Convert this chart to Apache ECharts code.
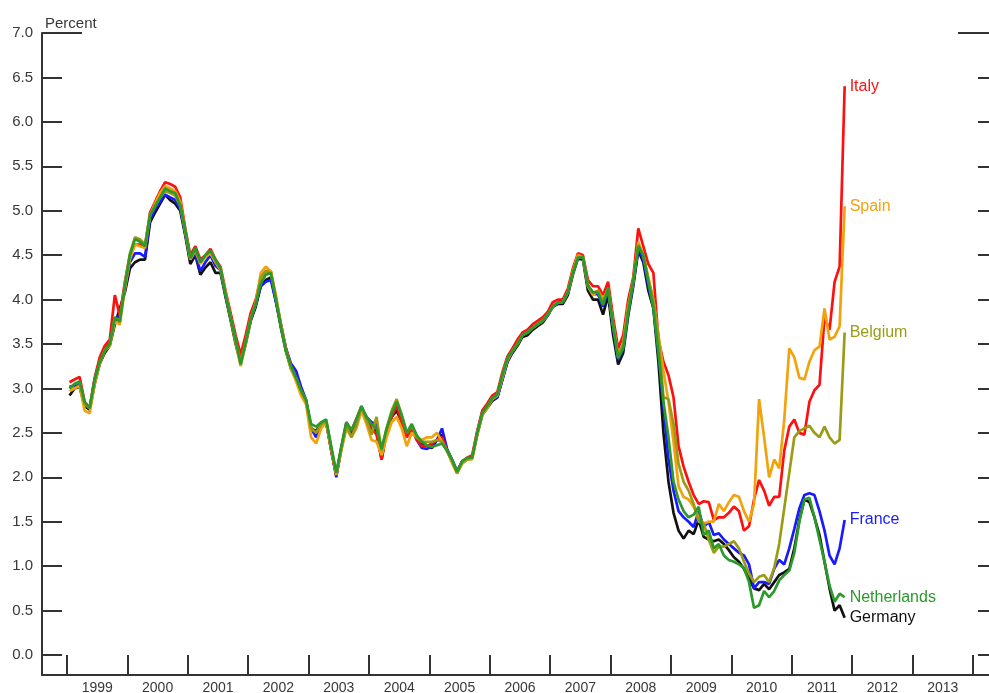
<!DOCTYPE html>
<html>
<head>
<meta charset="utf-8">
<script src="https://cdn.jsdelivr.net/npm/echarts@6/dist/echarts.min.js"></script>
<style>
  html, body { margin: 0; padding: 0; background: #ffffff; }
  #chart { width: 989px; height: 693px; }
</style>
</head>
<body>
<div id="chart"></div>
<script>
// Monthly averages, January 1999 to November 2011 (percent)
const firstYear = 1999;

const yearLabels = ['1999', '2000', '2001', '2002', '2003', '2004', '2005',
  '2006', '2007', '2008', '2009', '2010', '2011', '2012', '2013'];
const yearTicks = [1999, 2000, 2001, 2002, 2003, 2004, 2005, 2006, 2007,
  2008, 2009, 2010, 2011, 2012, 2013, 2014];
const valueTicks = [0, 0.5, 1, 1.5, 2, 2.5, 3, 3.5, 4, 4.5, 5, 5.5, 6, 6.5];
const valueLabels = [0, 0.5, 1, 1.5, 2, 2.5, 3, 3.5, 4, 4.5, 5, 5.5, 6, 6.5, 7];

const germany = [
  2.92, 3.0, 3.02, 2.8, 2.76, 3.05, 3.28, 3.4, 3.48, 3.72, 3.9, 4.08,
  4.35, 4.42, 4.45, 4.45, 4.87, 4.98, 5.08, 5.18, 5.12, 5.08, 5.0, 4.72,
  4.4, 4.5, 4.28, 4.36, 4.42, 4.3, 4.3, 4.03, 3.77, 3.5, 3.28, 3.5,
  3.76, 3.92, 4.15, 4.22, 4.25, 3.98, 3.68, 3.42, 3.22, 3.12, 2.96, 2.85,
  2.55, 2.52, 2.6, 2.62, 2.3, 2.03, 2.32, 2.58, 2.5, 2.6, 2.75, 2.66,
  2.55, 2.52, 2.2, 2.52, 2.68, 2.75, 2.62, 2.5, 2.55, 2.44, 2.38, 2.36,
  2.33, 2.42, 2.48, 2.3, 2.18, 2.05, 2.17, 2.2, 2.22, 2.48, 2.7, 2.78,
  2.86, 2.9, 3.1, 3.3, 3.4, 3.48, 3.58, 3.6, 3.66, 3.7, 3.74, 3.82,
  3.92, 3.95, 3.95, 4.05, 4.28, 4.46, 4.45, 4.1, 4.0, 4.0, 3.83, 4.05,
  3.6, 3.27, 3.4, 3.82, 4.15, 4.55, 4.42, 4.1, 3.9, 3.3, 2.5, 1.95,
  1.6, 1.4, 1.31, 1.4, 1.36, 1.52, 1.33, 1.3, 1.28, 1.3, 1.25, 1.18,
  1.1, 1.05, 0.97, 0.86, 0.75, 0.73, 0.8, 0.74, 0.82, 0.9, 0.93, 0.97,
  1.2, 1.52, 1.75, 1.72, 1.55, 1.35, 1.05, 0.75, 0.5, 0.56, 0.42
];

const france = [
  3.02, 3.03, 3.05, 2.8, 2.78, 3.1, 3.32, 3.45, 3.52, 3.78, 3.82, 4.12,
  4.42, 4.52, 4.52, 4.48, 4.9, 5.02, 5.1, 5.18, 5.15, 5.12, 5.02, 4.74,
  4.45, 4.52, 4.32, 4.42, 4.5, 4.38, 4.33, 4.05, 3.8, 3.55, 3.3, 3.52,
  3.78, 3.95, 4.15, 4.2, 4.22, 3.98, 3.72, 3.45, 3.28, 3.2, 3.02, 2.87,
  2.55, 2.45, 2.58, 2.62, 2.32, 2.0, 2.32, 2.6, 2.5, 2.62, 2.78, 2.68,
  2.62, 2.6, 2.28, 2.52, 2.7, 2.8, 2.65, 2.48, 2.55, 2.42, 2.33, 2.32,
  2.35, 2.42, 2.55, 2.32, 2.2, 2.07, 2.18, 2.21, 2.22, 2.5, 2.73, 2.8,
  2.87, 2.9, 3.1, 3.3, 3.42, 3.52, 3.6, 3.63, 3.68, 3.72, 3.76, 3.82,
  3.92, 3.96, 3.97, 4.08, 4.3, 4.47, 4.47, 4.15, 4.06, 4.06, 3.92, 4.1,
  3.68, 3.32, 3.45, 3.85, 4.18, 4.58, 4.45, 4.15, 3.92, 3.4, 2.8, 2.2,
  1.85, 1.62, 1.55, 1.5, 1.44, 1.62, 1.44, 1.5, 1.35, 1.37, 1.3, 1.25,
  1.2, 1.15, 1.12, 1.02, 0.75, 0.82, 0.82, 0.8, 0.97, 1.07, 1.02, 1.2,
  1.42, 1.65, 1.8, 1.82, 1.8, 1.62, 1.4, 1.12, 1.02, 1.2, 1.52
];

const italy = [
  3.07, 3.1, 3.13, 2.85, 2.78, 3.12, 3.35, 3.48, 3.55, 4.05, 3.82, 4.2,
  4.5, 4.62, 4.62, 4.6, 4.98, 5.1, 5.22, 5.32, 5.3, 5.27, 5.15, 4.8,
  4.5, 4.6, 4.45, 4.5, 4.57, 4.45, 4.37, 4.1, 3.85, 3.6, 3.38, 3.6,
  3.85, 4.0, 4.25, 4.32, 4.32, 4.02, 3.72, 3.45, 3.25, 3.12, 2.98, 2.85,
  2.55, 2.5, 2.58, 2.62, 2.3, 2.02, 2.33, 2.62, 2.52, 2.66, 2.8, 2.66,
  2.55, 2.48, 2.2, 2.5, 2.68, 2.8, 2.62, 2.45, 2.55, 2.42, 2.35, 2.35,
  2.38, 2.42, 2.45, 2.3, 2.18, 2.06, 2.18, 2.22, 2.25, 2.52, 2.75, 2.83,
  2.92, 2.96, 3.18, 3.36, 3.45, 3.55, 3.63, 3.66, 3.72, 3.76, 3.8, 3.86,
  3.97, 4.0, 4.0, 4.12, 4.35, 4.52, 4.5, 4.22, 4.15, 4.15, 4.05, 4.2,
  3.8, 3.45, 3.6, 4.0, 4.25, 4.8, 4.6, 4.4, 4.3, 3.55, 3.3, 3.15,
  2.9, 2.35, 2.12, 1.95, 1.8, 1.7, 1.73, 1.72, 1.52, 1.55, 1.55, 1.6,
  1.67, 1.62, 1.4, 1.45, 1.75, 1.97, 1.85, 1.68, 1.78, 1.78, 2.3, 2.57,
  2.65, 2.5, 2.48, 2.85, 2.98, 3.04, 3.8, 3.66, 4.2, 4.37, 6.4
];

const spain = [
  2.97, 3.0, 3.03, 2.75, 2.72, 3.05, 3.28, 3.42, 3.48, 3.75, 3.72, 4.12,
  4.45, 4.62, 4.6, 4.58, 4.95, 5.08, 5.2, 5.28, 5.25, 5.22, 5.1, 4.77,
  4.45, 4.55, 4.4, 4.48, 4.52, 4.42, 4.33, 4.08, 3.8, 3.52, 3.25, 3.5,
  3.78, 3.97, 4.3, 4.37, 4.32, 4.05, 3.72, 3.42, 3.22, 3.08, 2.92, 2.82,
  2.45, 2.38, 2.55, 2.62, 2.32, 2.03, 2.3, 2.55, 2.45, 2.55, 2.75, 2.6,
  2.42, 2.4, 2.25, 2.45, 2.62, 2.68, 2.55, 2.35, 2.5, 2.45, 2.42, 2.45,
  2.45, 2.5, 2.4, 2.3, 2.16, 2.04, 2.15, 2.2, 2.2, 2.48, 2.7, 2.78,
  2.88, 2.92, 3.12, 3.32, 3.42, 3.5, 3.6, 3.63, 3.68, 3.72, 3.76, 3.83,
  3.92, 3.97, 3.97, 4.08, 4.32, 4.5, 4.48, 4.15, 4.05, 4.1, 4.0, 4.12,
  3.72, 3.36, 3.5, 3.92, 4.2, 4.65, 4.5, 4.25, 4.0, 3.6, 3.2, 2.85,
  2.4, 1.9, 1.78, 1.75, 1.67, 1.55, 1.48, 1.5, 1.5, 1.7, 1.62, 1.72,
  1.8, 1.78, 1.62, 1.5, 1.7, 2.88, 2.45, 2.0, 2.2, 2.1, 2.65, 3.45,
  3.35, 3.12, 3.1, 3.3, 3.43, 3.47, 3.9, 3.55, 3.58, 3.7, 5.05
];

const belgium = [
  3.0, 3.05, 3.07, 2.82, 2.78, 3.08, 3.3, 3.43, 3.5, 3.8, 3.76, 4.18,
  4.52, 4.7, 4.68, 4.62, 4.95, 5.05, 5.15, 5.22, 5.2, 5.17, 5.05, 4.76,
  4.46, 4.56, 4.42, 4.5, 4.55, 4.43, 4.35, 4.07, 3.8, 3.55, 3.3, 3.53,
  3.8, 3.95, 4.25, 4.32, 4.3, 4.02, 3.72, 3.43, 3.24, 3.12, 2.97, 2.85,
  2.55, 2.5, 2.6, 2.63, 2.32, 2.04, 2.33, 2.58, 2.45, 2.58, 2.8, 2.64,
  2.48, 2.68, 2.3, 2.55, 2.75, 2.88, 2.7, 2.5, 2.58, 2.45, 2.4, 2.4,
  2.4, 2.42, 2.4, 2.3, 2.18, 2.05, 2.17, 2.2, 2.22, 2.5, 2.72, 2.8,
  2.89, 2.93, 3.14, 3.34, 3.42, 3.5, 3.6, 3.63, 3.68, 3.72, 3.76, 3.83,
  3.92, 3.97, 3.97, 4.08, 4.3, 4.48, 4.48, 4.16, 4.08, 4.1, 3.97, 4.13,
  3.72, 3.38, 3.5, 3.92, 4.22, 4.62, 4.5, 4.22, 4.0, 3.6, 2.9, 2.88,
  2.6, 2.15, 1.95, 1.85, 1.7, 1.5, 1.48, 1.3, 1.15, 1.22, 1.22, 1.25,
  1.28, 1.2, 1.05, 0.92, 0.82, 0.88, 0.9, 0.82, 0.98, 1.25, 1.65, 2.05,
  2.45, 2.52, 2.55, 2.58, 2.5, 2.45, 2.57, 2.45, 2.38, 2.42, 3.63
];

const netherlands = [
  3.0, 3.05, 3.08, 2.85, 2.78, 3.1, 3.3, 3.42, 3.5, 3.8, 3.75, 4.15,
  4.5, 4.68, 4.65, 4.6, 4.95, 5.05, 5.15, 5.25, 5.22, 5.2, 5.06, 4.78,
  4.47, 4.58, 4.42, 4.5, 4.55, 4.45, 4.35, 4.05, 3.8, 3.55, 3.27, 3.52,
  3.78, 3.95, 4.18, 4.28, 4.3, 4.0, 3.7, 3.42, 3.25, 3.12, 2.98, 2.87,
  2.6, 2.57, 2.62, 2.65, 2.35, 2.05, 2.35, 2.62, 2.53, 2.65, 2.8, 2.68,
  2.6, 2.55, 2.32, 2.55, 2.72, 2.85, 2.7, 2.5, 2.6, 2.47, 2.4, 2.36,
  2.34, 2.36, 2.38, 2.3, 2.2, 2.06, 2.18, 2.22, 2.22, 2.5, 2.72, 2.8,
  2.89, 2.93, 3.15, 3.34, 3.42, 3.5, 3.6, 3.63, 3.68, 3.72, 3.76, 3.83,
  3.92, 3.97, 3.97, 4.08, 4.3, 4.47, 4.48, 4.16, 4.08, 4.08, 3.94, 4.13,
  3.7, 3.34, 3.45, 3.85, 4.2, 4.6, 4.5, 4.2, 3.9, 3.4, 2.85, 2.45,
  1.95, 1.75, 1.62, 1.55, 1.58, 1.67, 1.35, 1.4, 1.2, 1.25, 1.12, 1.07,
  1.05, 1.02, 0.98, 0.82, 0.53, 0.56, 0.72, 0.65, 0.72, 0.84, 0.9, 0.95,
  1.15, 1.5, 1.75, 1.77, 1.55, 1.3, 1.05, 0.78, 0.6, 0.69, 0.65
];

// Mid-month position of each observation, in fractional years
const monthPositions = germany.map((_, i) => firstYear + (i + 0.5) / 12);

const FONT = '"Liberation Sans", Arial, Helvetica, sans-serif';
const AXIS_COLOR = '#333333';
const TEXT_COLOR = '#383838';

const yMin = -0.225, yMax = 7.0;
// The plot runs on past the right edge of the page; only the ends of the
// right-hand ticks are visible there.
const xMin = 1998.586, xMax = 2014.265;

function country(name, values, color) {
  return {
    name: name,
    type: 'line',
    data: values.map((v, i) => [monthPositions[i], v]),
    showSymbol: false,
    symbol: 'none',
    smooth: false,
    lineStyle: { color: color, width: 2.7 },
    itemStyle: { color: color },
    emphasis: { disabled: true },
    endLabel: {
      show: true,
      formatter: '{a}',
      color: color,
      fontFamily: FONT,
      fontSize: 16,
      distance: 5
    }
  };
}

function tickAxis(position, values, length) {
  return {
    type: 'value', position: position, min: yMin, max: yMax,
    axisLine: { show: false },
    axisTick: { show: true, inside: true, length: length, customValues: values,
      lineStyle: { color: AXIS_COLOR, width: 2 } },
    axisLabel: { show: false },
    splitLine: { show: false }
  };
}

const chart = echarts.init(document.getElementById('chart'), null, { renderer: 'canvas' });

chart.setOption({
  animation: false,
  backgroundColor: '#ffffff',
  title: {
    text: 'Percent',
    left: 40, top: 11,
    textStyle: { fontFamily: FONT, fontSize: 15, fontWeight: 'normal', color: TEXT_COLOR }
  },
  grid: { left: 42, right: 0, top: 33, bottom: 18, containLabel: false, outerBoundsMode: 'none' },
  xAxis: [{
    type: 'value', position: 'bottom', min: xMin, max: xMax,
    axisLine: { show: true, onZero: false, lineStyle: { color: AXIS_COLOR, width: 2 } },
    axisTick: { show: true, inside: true, length: 20, customValues: yearTicks,
      lineStyle: { color: AXIS_COLOR, width: 2 } },
    axisLabel: {
      customValues: yearLabels.map((_, i) => firstYear + i + 0.5),
      formatter: v => yearLabels[Math.floor(v) - firstYear],
      fontFamily: FONT, fontSize: 14, color: TEXT_COLOR, margin: 6
    },
    splitLine: { show: false }
  }],
  yAxis: [
    {
      type: 'value', position: 'left', min: yMin, max: yMax,
      axisLine: { show: true, onZero: false, lineStyle: { color: AXIS_COLOR, width: 2 } },
      axisTick: { show: true, inside: true, length: 20, customValues: valueTicks,
        lineStyle: { color: AXIS_COLOR, width: 2 } },
      axisLabel: {
        customValues: valueLabels,
        formatter: v => v.toFixed(1),
        fontFamily: FONT, fontSize: 15, color: TEXT_COLOR, margin: 9
      },
      splitLine: { show: false }
    },
    tickAxis('left', [7], 40),
    tickAxis('right', valueTicks, 11),
    tickAxis('right', [7], 31)
  ],
  series: [
    country('Germany', germany, '#111111'),
    country('France', france, '#1a1aff'),
    country('Italy', italy, '#ff1010'),
    country('Spain', spain, '#f2a20c'),
    country('Belgium', belgium, '#9b9b16'),
    country('Netherlands', netherlands, '#2a9a2a')
  ]
});
</script>
</body>
</html>
